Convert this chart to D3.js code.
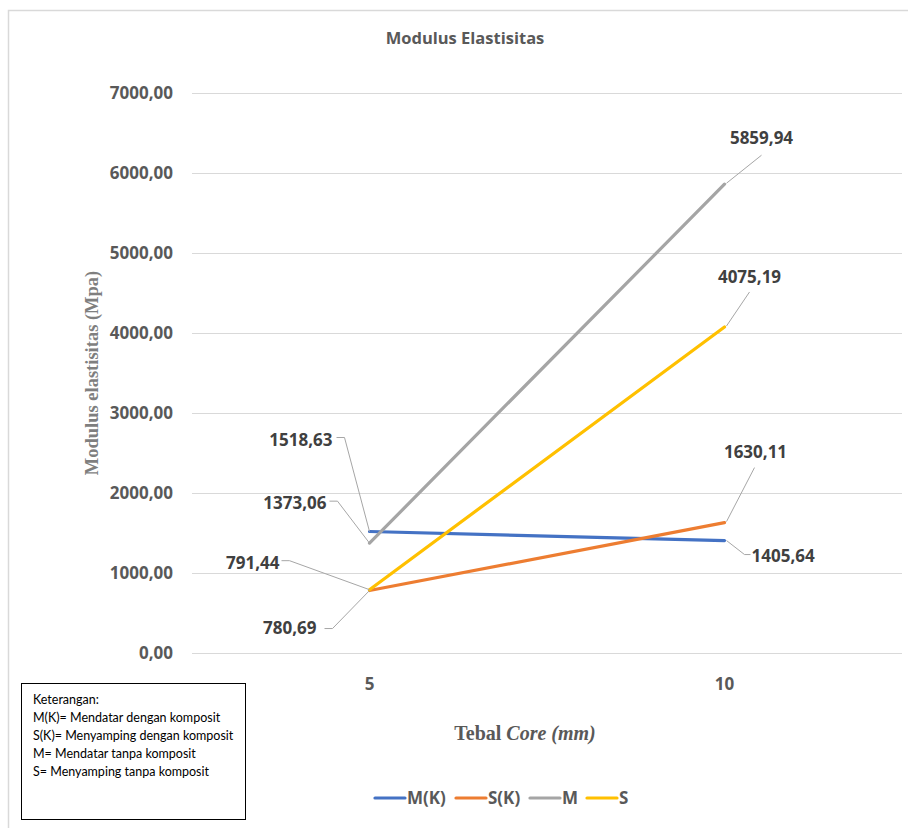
<!DOCTYPE html>
<html>
<head>
<meta charset="utf-8">
<script src="https://cdn.jsdelivr.net/npm/d3@7"></script>
<style>
  html, body { margin: 0; padding: 0; background: #fff; }
  svg { display: block; }
</style>
</head>
<body>
<svg id="chart" width="908" height="828"></svg>
<script>
// Tebal core (mm)
const categories = ["5", "10"];

// Modulus elastisitas (MPa) per series
const seriesNames = ["M(K)", "S(K)", "M", "S"];
const valuesMK = [1518.63, 1405.64];
const valuesSK = [780.69, 1630.11];
const valuesM  = [1373.06, 5859.94];
const valuesS  = [791.44, 4075.19];

const yTicks = [0, 1000, 2000, 3000, 4000, 5000, 6000, 7000];

const legendNotes = [
  "Keterangan:",
  "M(K)= Mendatar dengan komposit",
  "S(K)= Menyamping dengan komposit",
  "M= Mendatar tanpa komposit",
  "S= Menyamping tanpa komposit"
];

const colors = ["#4472C4", "#ED7D31", "#A5A5A5", "#FFC000"];
const seriesValues = [valuesMK, valuesSK, valuesM, valuesS];

// data-label placement: text anchor point offset from the mark, plus leader elbow
// [series, category, dx, dy, anchor, elbowDx, elbowDy]
const labelPlacement = [
  [0, 0, -37, -91, "end", -25, -94],
  [1, 0, -53, 38, "end", -37, 38],
  [2, 0, -43, -40, "end", -32, -42],
  [3, 0, -90, -27, "end", -80, -29],
  [0, 1, 27, 16, "start", 20, 14],
  [1, 1, 31, -71, "middle", 30, -55],
  [2, 1, 37, -46, "middle", 37, -29],
  [3, 1, 25, -50, "middle", 25, -35]
];

const svg = d3.select("#chart");
const fmt = v => d3.format(".2f")(v).replace(".", ",");

// outer chart frame
svg.append("rect")
  .attr("x", 8.5).attr("y", 10.5)
  .attr("width", 920).attr("height", 840)
  .attr("fill", "#fff")
  .attr("stroke", "#d9d9d9").attr("stroke-width", 1.5);

const plot = { left: 192, right: 902, top: 93, bottom: 653 };

const x = d3.scaleBand()
  .domain(categories)
  .range([plot.left, plot.right])
  .paddingInner(0).paddingOuter(0);

const y = d3.scaleLinear()
  .domain([0, 7000])
  .range([plot.bottom, plot.top]);

const cx = c => x(c) + x.bandwidth() / 2;

// gridlines
svg.append("g")
  .selectAll("line")
  .data(yTicks)
  .join("line")
  .attr("x1", plot.left).attr("x2", plot.right)
  .attr("y1", d => Math.round(y(d)) + 0.5)
  .attr("y2", d => Math.round(y(d)) + 0.5)
  .attr("stroke", "#d9d9d9").attr("stroke-width", 1);

// y axis tick labels
const yAxis = d3.axisLeft(y).tickValues(yTicks).tickFormat(fmt).tickSize(0).tickPadding(0);
const gy = svg.append("g").attr("transform", `translate(${plot.left - 19},0)`).call(yAxis);
gy.select(".domain").remove();
gy.selectAll("text")
  .attr("font-family", "'Open Sans', sans-serif")
  .attr("font-weight", "bold")
  .attr("font-size", 17)
  .attr("fill", "#595959")
  .attr("dy", "0.35em");

// x axis tick labels
const xAxis = d3.axisBottom(x).tickSize(0).tickPadding(0);
const gx = svg.append("g").attr("transform", `translate(0,${plot.bottom + 31})`).call(xAxis);
gx.select(".domain").remove();
gx.selectAll("text")
  .attr("font-family", "'Open Sans', sans-serif")
  .attr("font-weight", "bold")
  .attr("font-size", 17)
  .attr("fill", "#595959")
  .attr("dy", "0.35em");

// chart title
svg.append("text")
  .attr("x", 465).attr("y", 38)
  .attr("dy", "0.35em")
  .attr("text-anchor", "middle")
  .attr("font-family", "'Open Sans', sans-serif")
  .attr("font-weight", "bold")
  .attr("font-size", 16.5)
  .attr("fill", "#595959")
  .text("Modulus Elastisitas");

// y axis title
svg.append("text")
  .attr("transform", "translate(92,373) rotate(-90)")
  .attr("text-anchor", "middle")
  .attr("dy", "0.35em")
  .attr("font-family", "'Liberation Serif', 'Times New Roman', serif")
  .attr("font-weight", "bold")
  .attr("font-size", 18.5)
  .attr("fill", "#7f7f7f")
  .text("Modulus elastisitas (Mpa)");

// x axis title
const xt = svg.append("text")
  .attr("x", 525).attr("y", 733)
  .attr("dy", "0.35em")
  .attr("text-anchor", "middle")
  .attr("font-family", "'Liberation Serif', 'Times New Roman', serif")
  .attr("font-weight", "bold")
  .attr("font-size", 20)
  .attr("fill", "#595959");
xt.append("tspan").text("Tebal ");
xt.append("tspan").attr("font-style", "italic").text("Core");
xt.append("tspan").attr("font-style", "italic").text(" (mm)");

// series lines
const line = d3.line()
  .x((d, i) => cx(categories[i]))
  .y(d => y(d));

svg.append("g")
  .selectAll("path")
  .data(seriesValues)
  .join("path")
  .attr("d", d => line(d))
  .attr("fill", "none")
  .attr("stroke", (d, i) => colors[i])
  .attr("stroke-width", 3.2)
  .attr("stroke-linecap", "round");

// data labels with leader lines
const lbl = svg.append("g");
labelPlacement.forEach(([s, c, dx, dy, anchor, ex, ey]) => {
  const px = cx(categories[c]);
  const py = y(seriesValues[s][c]);
  const pts = anchor === "middle"
    ? [[px + 2, py - 1], [px + ex, py + ey]]
    : anchor === "end"
      ? [[px, py], [px + ex, py + ey], [px + ex - 8, py + ey]]
      : [[px + 2, py], [px + ex, py + ey], [px + ex + 6, py + ey]];
  lbl.append("path")
    .attr("d", d3.line()(pts))
    .attr("fill", "none")
    .attr("stroke", "#a6a6a6")
    .attr("stroke-width", 1);
  lbl.append("text")
    .attr("x", px + dx).attr("y", py + dy)
    .attr("dy", "0.35em")
    .attr("text-anchor", anchor)
    .attr("font-family", "'Open Sans', sans-serif")
    .attr("font-weight", "bold")
    .attr("font-size", 17)
    .attr("fill", "#404040")
    .text(fmt(seriesValues[s][c]));
});

// series legend
const legendItems = [
  { name: seriesNames[0], x: 375 },
  { name: seriesNames[1], x: 456 },
  { name: seriesNames[2], x: 530 },
  { name: seriesNames[3], x: 587 }
];
const lg = svg.append("g");
legendItems.forEach((it, i) => {
  lg.append("line")
    .attr("x1", it.x).attr("x2", it.x + 30)
    .attr("y1", 798).attr("y2", 798)
    .attr("stroke", colors[i]).attr("stroke-width", 3.2)
    .attr("stroke-linecap", "round");
  lg.append("text")
    .attr("x", it.x + 32).attr("y", 798)
    .attr("dy", "0.35em")
    .attr("font-family", "'Open Sans', sans-serif")
    .attr("font-weight", "bold")
    .attr("font-size", 17)
    .attr("fill", "#595959")
    .text(it.name);
});

// notes box
svg.append("rect")
  .attr("x", 21.5).attr("y", 683.5)
  .attr("width", 224).attr("height", 136)
  .attr("fill", "#fff")
  .attr("stroke", "#000").attr("stroke-width", 1);

svg.append("g")
  .selectAll("text")
  .data(legendNotes)
  .join("text")
  .attr("x", 33)
  .attr("y", (d, i) => 700 + i * 18)
  .attr("dy", "0.35em")
  .attr("font-family", "Lato, sans-serif")
  .attr("font-size", 12.5)
  .attr("fill", "#000")
  .text(d => d);
</script>
</body>
</html>
